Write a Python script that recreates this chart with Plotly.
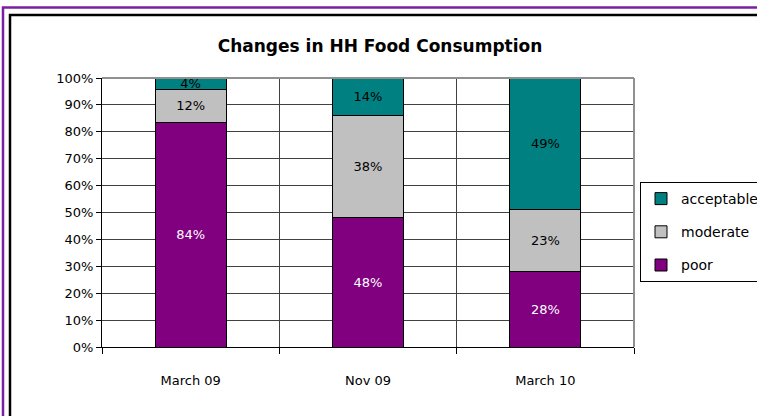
import plotly.graph_objects as go

categories = ["March 09", "Nov 09", "March 10"]
poor = [0.836, 0.48, 0.28]
moderate = [0.121, 0.38, 0.23]
acceptable = [0.043, 0.14, 0.49]
y_ticks = [0, 0.1, 0.2, 0.3, 0.4, 0.5, 0.6, 0.7, 0.8, 0.9, 1.0]

W, H = 757, 416
L, R, T, B = 102, 634, 78, 347
pw, ph = R - L, B - T

def px_x(px):
    return (px - L) / pw

def px_y(py):
    return (B - py) / ph

FONT = "'DejaVu Sans', sans-serif"

fig = go.Figure()
series = [
    ("poor", poor, "#800080", "white", 3),
    ("moderate", moderate, "#C0C0C0", "black", 2),
    ("acceptable", acceptable, "#008080", "black", 1),
]
for name, vals, col, tcol, rank in series:
    fig.add_trace(go.Bar(
        x=categories, y=vals, name=name, legendgroup=name, legendrank=rank,
        marker=dict(color=col, line=dict(color="black", width=1)),
        width=0.4,
        texttemplate="%{y:.0%}", textposition="inside",
        insidetextanchor="middle", constraintext="none",
        textfont=dict(color=tcol, size=13, family=FONT),
        hoverinfo="skip",
    ))

fig.update_layout(
    width=W, height=H,
    margin=dict(l=L, r=W - R, t=T, b=H - B, autoexpand=False),
    barmode="stack", bargap=0.6,
    paper_bgcolor="white", plot_bgcolor="white",
    font=dict(family=FONT, size=13, color="black"),
    uniformtext=dict(minsize=13, mode="show"),
    title=dict(text="<b>Changes in HH Food Consumption</b>",
               font=dict(size=17, family=FONT, color="black"),
               xref="container", yref="container", x=380 / W, y=1 - 46 / H,
               xanchor="center", yanchor="middle"),
    showlegend=True,
    legend=dict(xref="container", yref="container",
                x=640 / W, y=1 - 182 / H, xanchor="left", yanchor="top",
                bordercolor="black", borderwidth=1,
                traceorder="grouped", tracegroupgap=12,
                font=dict(size=14, family=FONT),
                itemwidth=30),
)

fig.update_xaxes(
    type="category", tickson="boundaries",
    showgrid=True, gridcolor="#404040", gridwidth=1,
    ticks="outside", ticklen=6, tickcolor="black",
    showline=True, linecolor="black", linewidth=1,
    ticklabelstandoff=21, tickfont=dict(size=13),
    range=[-0.5, 2.5], fixedrange=True,
)
fig.update_yaxes(
    range=[0, 1], tickvals=y_ticks, tickformat=".0%",
    showgrid=True, gridcolor="#404040", gridwidth=1,
    ticks="outside", ticklen=5, tickcolor="black",
    showline=True, linecolor="black", linewidth=1,
    tickfont=dict(size=13), zeroline=False,
)

# plot area border top/right (gray)
fig.add_shape(type="line", xref="paper", yref="paper", x0=0, x1=1, y0=1, y1=1,
              line=dict(color="#909090", width=2), layer="above")
fig.add_shape(type="line", xref="paper", yref="paper", x0=1, x1=1, y0=0, y1=1,
              line=dict(color="#909090", width=2), layer="above")

# outer frames
fig.add_shape(type="rect", xref="paper", yref="paper",
              x0=px_x(3), x1=px_x(770), y0=px_y(7.5), y1=px_y(430),
              line=dict(color="#7A1FA2", width=2.5), layer="above")
fig.add_shape(type="rect", xref="paper", yref="paper",
              x0=px_x(10), x1=px_x(765), y0=px_y(15), y1=px_y(425),
              line=dict(color="black", width=2.5), layer="above")

fig.write_html("out.html", config={"displayModeBar": False},
               post_script="document.body.style.margin='0';document.body.style.overflow='hidden';")
